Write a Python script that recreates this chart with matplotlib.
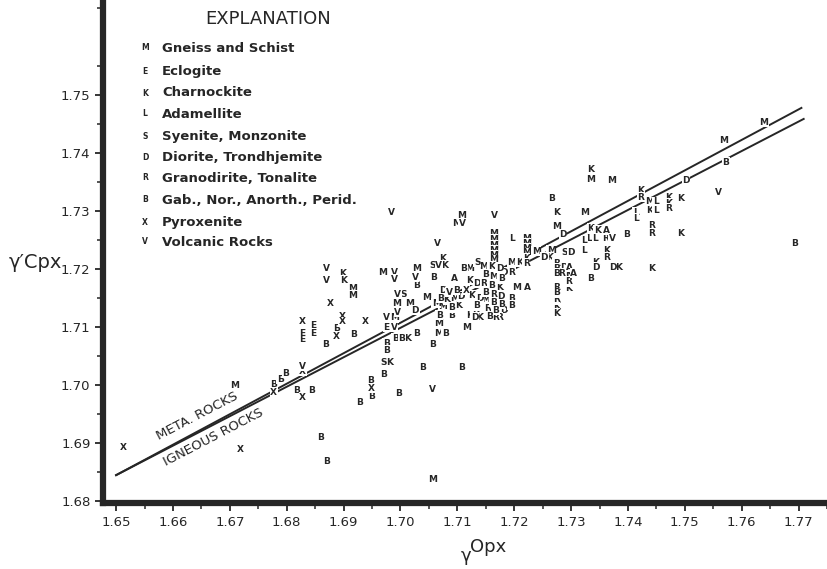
import numpy as np
import matplotlib
matplotlib.use("Agg")
from matplotlib import pyplot as plt

# gamma Opx (x) vs gamma' Cpx (y), one list pair per plotted letter
m_x = [1.6709, 1.6916, 1.6916, 1.7107, 1.7098, 1.6968, 1.7028, 1.7121, 1.6993, 1.7016,
       1.7046, 1.6989, 1.7116, 1.7068, 1.7068, 1.7095, 1.7075, 1.7063, 1.7163, 1.7163,
       1.7163, 1.7163, 1.7163, 1.7163, 1.7221, 1.7221, 1.7221, 1.7221, 1.7239, 1.7265,
       1.7275, 1.7196, 1.7205, 1.7147, 1.7163, 1.7149, 1.7335, 1.7372, 1.7323, 1.7439,
       1.7639, 1.7568, 1.7056]
m_y = [1.7000, 1.7167, 1.7155, 1.7293, 1.7278, 1.7195, 1.7202, 1.7202, 1.7141, 1.7141,
       1.7152, 1.7116, 1.7100, 1.7107, 1.7090, 1.7150, 1.7136, 1.7141, 1.7262, 1.7252,
       1.7241, 1.7233, 1.7224, 1.7216, 1.7253, 1.7245, 1.7236, 1.7228, 1.7231, 1.7233,
       1.7274, 1.7212, 1.7169, 1.7205, 1.7188, 1.7147, 1.7355, 1.7353, 1.7297, 1.7316,
       1.7453, 1.7422, 1.6838]

e_x = [1.6847, 1.6847, 1.6828, 1.6828, 1.6975]
e_y = [1.7103, 1.7090, 1.7090, 1.7078, 1.7100]

k_x = [1.6981, 1.7012, 1.6898, 1.6900, 1.7075, 1.7077, 1.7121, 1.7132, 1.7082, 1.7102,
       1.7125, 1.7121, 1.7221, 1.7263, 1.7274, 1.7295, 1.7274, 1.7274, 1.7296, 1.7209,
       1.7161, 1.7140, 1.7160, 1.7174, 1.7335, 1.7423, 1.7439, 1.7472, 1.7472, 1.7493,
       1.7493, 1.7335, 1.7346, 1.7363, 1.7344, 1.7384, 1.7442]
k_y = [1.7040, 1.7081, 1.7193, 1.7181, 1.7219, 1.7207, 1.7121, 1.7121, 1.7147, 1.7138,
       1.7155, 1.7181, 1.7219, 1.7221, 1.7298, 1.7193, 1.7136, 1.7124, 1.7166, 1.7212,
       1.7124, 1.7117, 1.7205, 1.7169, 1.7371, 1.7336, 1.7302, 1.7324, 1.7314, 1.7322,
       1.7262, 1.7271, 1.7267, 1.7233, 1.7212, 1.7203, 1.7202]

l_x = [1.7196, 1.7449, 1.7449, 1.7414, 1.7414, 1.7332, 1.7342, 1.7323, 1.7323]
l_y = [1.7253, 1.7316, 1.7302, 1.7298, 1.7288, 1.7253, 1.7253, 1.7250, 1.7233]

s_x = [1.6970, 1.7056, 1.7135, 1.7005, 1.7289]
s_y = [1.7040, 1.7207, 1.7212, 1.7157, 1.7228]

d_x = [1.7026, 1.7074, 1.7107, 1.7139, 1.7135, 1.7253, 1.7286, 1.7300, 1.7288, 1.7182,
       1.7130, 1.7174, 1.7177, 1.7181, 1.7344, 1.7374, 1.7502]
d_y = [1.7129, 1.7164, 1.7153, 1.7150, 1.7176, 1.7221, 1.7260, 1.7228, 1.7203, 1.7195,
       1.7117, 1.7202, 1.7153, 1.7129, 1.7203, 1.7203, 1.7353]

r_x = [1.7284, 1.7196, 1.7221, 1.7274, 1.7274, 1.7274, 1.7274, 1.7296, 1.7147, 1.7163,
       1.7153, 1.7174, 1.7168, 1.7423, 1.7472, 1.7442, 1.7442, 1.7361, 1.7363]
r_y = [1.7193, 1.7195, 1.7210, 1.7210, 1.7198, 1.7169, 1.7147, 1.7178, 1.7176, 1.7157,
       1.7133, 1.7117, 1.7116, 1.7324, 1.7305, 1.7276, 1.7262, 1.7253, 1.7221]

a_x = [1.7095, 1.7223, 1.7298, 1.7305, 1.7363]
a_y = [1.7184, 1.7169, 1.7203, 1.7193, 1.7267]

b_x = [1.6777, 1.6789, 1.6798, 1.6818, 1.6844, 1.6860, 1.6870, 1.6928, 1.6947, 1.6949,
       1.6970, 1.6975, 1.6975, 1.6991, 1.7002, 1.7028, 1.7079, 1.7056, 1.7039, 1.7107,
       1.6996, 1.6888, 1.6918, 1.6868, 1.7058, 1.7028, 1.7111, 1.7068, 1.7089, 1.7098,
       1.7070, 1.7089, 1.7133, 1.7265, 1.7274, 1.7274, 1.7274, 1.7195, 1.7195, 1.7149,
       1.7177, 1.7160, 1.7149, 1.7163, 1.7177, 1.7167, 1.7156, 1.7398, 1.7335, 1.7572,
       1.7693]
b_y = [1.7002, 1.7010, 1.7021, 1.6991, 1.6991, 1.6910, 1.6869, 1.6971, 1.7009, 1.6981,
       1.7019, 1.7072, 1.7060, 1.7081, 1.7081, 1.7090, 1.7090, 1.7071, 1.7031, 1.7031,
       1.6986, 1.7097, 1.7088, 1.7071, 1.7186, 1.7172, 1.7202, 1.7121, 1.7121, 1.7164,
       1.7150, 1.7134, 1.7138, 1.7322, 1.7202, 1.7193, 1.7159, 1.7150, 1.7138, 1.7191,
       1.7184, 1.7172, 1.7160, 1.7143, 1.7140, 1.7129, 1.7119, 1.7259, 1.7184, 1.7384,
       1.7245]

x_x = [1.6512, 1.6719, 1.6777, 1.6828, 1.6828, 1.6949, 1.6877, 1.6828, 1.6898, 1.6898,
       1.6888, 1.6939, 1.7116]
x_y = [1.6893, 1.6890, 1.6988, 1.7024, 1.6979, 1.6995, 1.7141, 1.7110, 1.7119, 1.7109,
       1.7084, 1.7110, 1.7164]

v_x = [1.6828, 1.6870, 1.6870, 1.6984, 1.7109, 1.7065, 1.7067, 1.6989, 1.6989, 1.7026,
       1.6995, 1.6995, 1.6975, 1.6989, 1.7056, 1.7086, 1.7165, 1.7372, 1.7560]
v_y = [1.7033, 1.7202, 1.7181, 1.7298, 1.7278, 1.7245, 1.7207, 1.7195, 1.7183, 1.7186,
       1.7157, 1.7126, 1.7116, 1.7100, 1.6993, 1.7160, 1.7293, 1.7253, 1.7333]

# dividing lines (start shared, ends)
meta_line_x = [1.6500, 1.7705]
meta_line_y = [1.6845, 1.7478]
ign_line_x = [1.6500, 1.7709]
ign_line_y = [1.6845, 1.7459]

legend_letters = ["M", "E", "K", "L", "S", "D", "R", "B", "X", "V"]
legend_names = ["Gneiss and Schist", "Eclogite", "Charnockite", "Adamellite",
                "Syenite, Monzonite", "Diorite, Trondhjemite", "Granodirite, Tonalite",
                "Gab., Nor., Anorth., Perid.", "Pyroxenite", "Volcanic Rocks"]

ink = "#262626"
plt.rcParams["font.family"] = ["DejaVu Sans"]

fig = plt.figure(figsize=(8.27, 5.69), dpi=100)
W, H = 827, 569
ax = fig.add_axes([103 / W, (H - 503) / H, 1 - 103 / W, 503 / H])
ax.set_xlim(1.6477, 1.7747)
ax.set_ylim(1.6797, 1.7664)

ax.plot(meta_line_x, meta_line_y, color=ink, lw=1.4, zorder=1)
ax.plot(ign_line_x, ign_line_y, color=ink, lw=1.4, zorder=1)

groups = [("M", m_x, m_y), ("E", e_x, e_y), ("K", k_x, k_y), ("L", l_x, l_y),
          ("S", s_x, s_y), ("D", d_x, d_y), ("R", r_x, r_y), ("A", a_x, a_y),
          ("B", b_x, b_y), ("X", x_x, x_y), ("V", v_x, v_y)]
for letter, xs, ys in groups:
    for xv, yv in zip(xs, ys):
        ax.text(xv, yv, letter, fontsize=6.5, fontweight="bold", color=ink,
                ha="center", va="center", zorder=3,
                bbox=dict(facecolor="white", edgecolor="none", pad=0.4))

ax.text(1.6642, 1.6947, "META. ROCKS", rotation=27.5, rotation_mode="anchor",
        ha="center", va="center", fontsize=9.5, color=ink)
ax.text(1.6672, 1.6910, "IGNEOUS ROCKS", rotation=27.5, rotation_mode="anchor",
        ha="center", va="center", fontsize=9.5, color=ink)

for side in ["top", "right"]:
    ax.spines[side].set_visible(False)
for side in ["left", "bottom"]:
    ax.spines[side].set_linewidth(4.5)
    ax.spines[side].set_color(ink)

ax.set_xticks(np.arange(1.65, 1.7701, 0.01))
ax.set_xticks(np.arange(1.655, 1.7751, 0.01), minor=True)
ax.set_yticks(np.arange(1.68, 1.7501, 0.01))
ax.set_yticks(np.arange(1.685, 1.7651, 0.01), minor=True)
ax.xaxis.set_major_formatter(matplotlib.ticker.FormatStrFormatter("%.2f"))
ax.yaxis.set_major_formatter(matplotlib.ticker.FormatStrFormatter("%.2f"))
ax.tick_params(which="major", length=6, width=1.3, color=ink, labelsize=9.5,
               labelcolor=ink, pad=3)
ax.tick_params(which="minor", length=4, width=1.1, color=ink)

# explanation block
fig.text(268 / W, 1 - 19 / H, "EXPLANATION", ha="center", va="center",
         fontsize=13, color=ink)
leg_y = [48, 71, 93, 114, 136, 157, 178, 200, 222, 242]
for py, letter, name in zip(leg_y, legend_letters, legend_names):
    fig.text(145 / W, 1 - py / H, letter, ha="center", va="center",
             fontsize=5.5, fontweight="bold", color=ink)
    fig.text(162 / W, 1 - py / H, name, ha="left", va="center",
             fontsize=9.5, fontweight="bold", color=ink)

fig.text(35 / W, 1 - 262 / H, "\u03b3\u2032Cpx", ha="center", va="center",
         fontsize=14, color=ink)
fig.text(466 / W, 1 - 556 / H, "\u03b3", ha="center", va="center",
         fontsize=13, color=ink)
fig.text(488 / W, 1 - 547 / H, "Opx", ha="center", va="center",
         fontsize=13, color=ink)

fig.savefig("out.png", dpi=100)
